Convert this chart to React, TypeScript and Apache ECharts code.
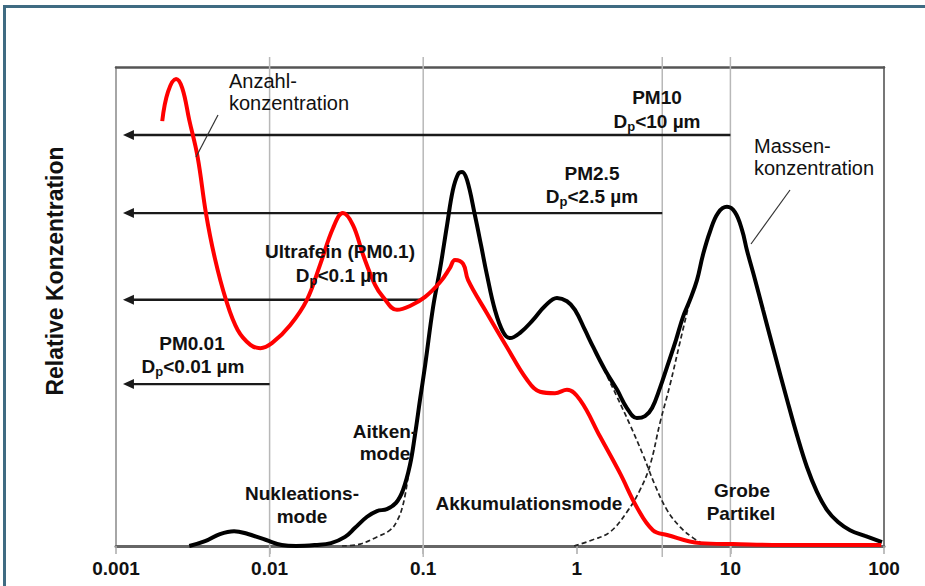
import React, { useEffect, useRef } from 'react';
import * as echarts from 'echarts';

const FONT = '"Liberation Sans", Arial, Helvetica, sans-serif';

// x axis (particle diameter, µm, log scale)
const xTickValues = [0.001, 0.01, 0.1, 1, 10, 100];
const xTickLabels = ['0.001', '0.01', '0.1', '1', '10', '100'];

// Anzahlkonzentration (red)
const numberX = [0.002, 0.00218, 0.00246, 0.0027, 0.003, 0.0034, 0.00385, 0.0044, 0.0052, 0.0062, 0.0075, 0.0087, 0.0104, 0.0136, 0.0175, 0.0213, 0.0259, 0.03, 0.0349, 0.0406, 0.0486, 0.0547, 0.0675, 0.082, 0.103, 0.129, 0.149, 0.161, 0.182, 0.196, 0.26, 0.351, 0.474, 0.576, 0.721, 0.863, 1.05, 1.42, 1.91, 2.46, 3.13, 3.87, 6.34, 10.4, 28.4, 96];
const numberY = [88.7, 94.8, 97.5, 95.6, 88.9, 81.2, 69.5, 60.1, 51.4, 45.1, 42.0, 41.3, 42.4, 46.1, 51.4, 58.7, 66.4, 69.5, 67.0, 60.8, 54.5, 52.0, 49.3, 50.1, 52.0, 55.1, 58.0, 59.7, 58.9, 55.5, 48.6, 41.5, 34.7, 32.2, 31.9, 32.6, 30.5, 22.8, 15.2, 8.1, 3.3, 2.3, 0.6, 0.4, 0.2, 0.2];

// Massenkonzentration (black)
const massX = [0.003, 0.0038, 0.00475, 0.00587, 0.00723, 0.0095, 0.012, 0.0149, 0.0198, 0.0251, 0.031, 0.036, 0.0431, 0.05, 0.058, 0.0665, 0.0739, 0.082, 0.0884, 0.0953, 0.103, 0.116, 0.129, 0.143, 0.156, 0.169, 0.179, 0.193, 0.217, 0.238, 0.26, 0.293, 0.331, 0.367, 0.427, 0.519, 0.621, 0.743, 0.863, 0.973, 1.13, 1.28, 1.53, 1.83, 2.12, 2.46, 2.78, 3.09, 3.48, 3.87, 4.42, 4.91, 5.46, 6.06, 6.63, 7.36, 8.3, 9.5, 10.7, 11.9, 12.8, 14.5, 16.3, 19.5, 23.4, 27.1, 31.5, 36.6, 42.6, 50.2, 60.1, 75.2, 97];
const massY = [0, 1.0, 2.5, 3.1, 2.5, 1.25, 0.2, 0, 0.2, 0.6, 1.9, 3.8, 6.1, 7.3, 7.7, 9.0, 11.7, 16.9, 23.2, 30.5, 37.8, 49.9, 58.0, 67.0, 74.3, 77.7, 78.1, 76.4, 69.1, 62.8, 56.6, 49.3, 44.7, 43.4, 44.5, 47.2, 50.1, 51.8, 51.1, 49.3, 45.1, 41.5, 36.7, 32.6, 28.8, 26.7, 27.1, 28.8, 33.0, 37.4, 43.0, 47.8, 51.4, 55.5, 60.8, 65.6, 69.5, 70.8, 69.7, 66.0, 61.8, 55.5, 49.3, 39.9, 30.5, 23.2, 16.5, 11.3, 7.5, 5.0, 3.3, 2.1, 0.8];

// Dashed mode components
const aitkenX = [0.0296, 0.0388, 0.05, 0.0608, 0.0675, 0.0739, 0.0795];
const aitkenY = [0, 0.4, 1.9, 3.3, 5.2, 8.6, 14.2];
const accumTailX = [1.28, 1.53, 1.83, 2.22, 2.7, 3.23, 3.87, 4.7, 5.71, 6.83];
const accumTailY = [41.5, 36.3, 31.1, 25.3, 19.0, 12.7, 7.5, 4.0, 1.7, 0.2];
const coarseX = [0.96, 1.26, 1.64, 2.12, 2.58, 3.0, 3.48, 4.04, 4.7, 5.46];
const coarseY = [0, 1.25, 2.9, 7.1, 11.7, 16.9, 25.7, 33.6, 42.6, 51.4];

// Size-class arrows (PM10, PM2.5, PM0.1, PM0.01)
const cutoffNames = ['PM10', 'PM2.5', 'PM0.1', 'PM0.01'];
const cutoffEnds = [10, 3.6, 0.1, 0.01];
const arrowLevels = [85.8, 69.5, 51.4, 33.8];
const arrowTip = 0.00111;
const gridLineX = [0.01, 0.1, 3.6, 10];

const zip = (xs: number[], ys: number[]) => xs.map((x, i) => [x, ys[i]]);

function txt(text: string, x: number, y: number, size: number, bold: boolean, align = 'center') {
  return {
    type: 'text',
    x,
    y,
    z: 100,
    style: {
      text,
      fill: '#111',
      fontSize: size,
      fontWeight: bold ? 'bold' : 'normal',
      fontFamily: FONT,
      align,
      verticalAlign: 'middle',
    },
  };
}

function dp(rest: string, x: number, y: number) {
  return {
    type: 'text',
    x,
    y,
    z: 100,
    style: {
      text: `{b|D}{s|p}{b|${rest}}`,
      align: 'center',
      verticalAlign: 'middle',
      rich: {
        b: { fontSize: 19, fontWeight: 'bold', fontFamily: FONT, fill: '#111', lineHeight: 22 },
        s: { fontSize: 13, fontWeight: 'bold', fontFamily: FONT, fill: '#111', lineHeight: 14, padding: [10, 0, 0, 0] },
      },
    },
  };
}

export default function App() {
  const ref = useRef<HTMLDivElement>(null);

  useEffect(() => {
    const chart = echarts.init(ref.current!, null, { renderer: 'svg' });

    const option: any = {
      animation: false,
      backgroundColor: '#ffffff',
      grid: { left: 116, right: 41, top: 67, bottom: 40 },
      xAxis: [
        {
          type: 'log',
          logBase: 10,
          min: 0.001,
          max: 100,
          axisLine: { show: true, onZero: false, lineStyle: { color: '#666', width: 3 } },
          axisTick: { show: true, length: 8, lineStyle: { color: '#aaa', width: 1.5 } },
          minorTick: { show: false },
          splitLine: { show: false },
          axisLabel: {
            margin: 13,
            color: '#111',
            fontSize: 19,
            fontWeight: 'bold',
            fontFamily: FONT,
            formatter: (v: number) => {
              const i = xTickValues.findIndex((t) => Math.abs(Math.log10(t) - Math.log10(v)) < 1e-6);
              return i >= 0 ? xTickLabels[i] : '';
            },
          },
        },
        {
          type: 'value',
          position: 'top',
          min: 0,
          max: 1,
          axisLine: { show: true, onZero: false, lineStyle: { color: '#555', width: 2.5 } },
          axisTick: { show: false },
          axisLabel: { show: false },
          splitLine: { show: false },
        },
      ],
      yAxis: [
        {
          type: 'value',
          min: 0,
          max: 100,
          axisLine: { show: true, onZero: false, lineStyle: { color: '#888', width: 1.5 } },
          axisTick: { show: false },
          axisLabel: { show: false },
          splitLine: { show: false },
        },
        {
          type: 'value',
          position: 'right',
          min: 0,
          max: 1,
          axisLine: { show: true, onZero: false, lineStyle: { color: '#777', width: 2 } },
          axisTick: { show: false },
          axisLabel: { show: false },
          splitLine: { show: false },
        },
      ],
      series: [
        {
          type: 'custom',
          name: 'grid',
          z: 1,
          clip: false,
          encode: { x: 0, y: 1 },
          data: gridLineX.map((x) => [x, 0]),
          renderItem: (params: any, api: any) => {
            const x = api.value(0);
            const top = api.coord([x, 100]);
            const bot = api.coord([x, 0]);
            return {
              type: 'line',
              shape: { x1: top[0], y1: top[1] - 10, x2: bot[0], y2: bot[1] + 11 },
              style: { stroke: '#b8b8b8', lineWidth: 1.5 },
            };
          },
        },
        {
          type: 'custom',
          name: 'arrows',
          z: 2,
          clip: false,
          encode: { x: 0, y: 1 },
          data: cutoffEnds.map((x, i) => [x, arrowLevels[i], cutoffNames[i]]),
          renderItem: (params: any, api: any) => {
            const end = api.coord([api.value(0), api.value(1)]);
            const tip = api.coord([arrowTip, api.value(1)]);
            return {
              type: 'group',
              children: [
                {
                  type: 'line',
                  shape: { x1: tip[0] + 8, y1: end[1], x2: end[0], y2: end[1] },
                  style: { stroke: '#1a1a1a', lineWidth: 2.4 },
                },
                {
                  type: 'polygon',
                  shape: { points: [[tip[0], tip[1]], [tip[0] + 11, tip[1] - 5], [tip[0] + 11, tip[1] + 5]] },
                  style: { fill: '#1a1a1a' },
                },
              ],
            };
          },
        },
        ...[
          [aitkenX, aitkenY],
          [accumTailX, accumTailY],
          [coarseX, coarseY],
        ].map(([xs, ys]) => ({
          type: 'line',
          z: 3,
          smooth: 0.4,
          showSymbol: false,
          symbol: 'none',
          data: zip(xs, ys),
          lineStyle: { color: '#222', width: 1.7, type: [5, 3] },
        })),
        {
          type: 'line',
          name: 'Massenkonzentration',
          z: 4,
          smooth: 0.4,
          showSymbol: false,
          symbol: 'none',
          data: zip(massX, massY),
          lineStyle: { color: '#000', width: 4 },
        },
        {
          type: 'line',
          name: 'Anzahlkonzentration',
          z: 5,
          smooth: 0.4,
          showSymbol: false,
          symbol: 'none',
          data: zip(numberX, numberY),
          lineStyle: { color: '#ff0000', width: 4 },
        },
      ],
      graphic: [
        {
          type: 'rect',
          z: 0,
          shape: { x: 4.5, y: 6.5, width: 1000, height: 1000 },
          style: { fill: 'none', stroke: '#3f6b82', lineWidth: 3 },
        },
        {
          type: 'text',
          x: 55,
          y: 271,
          rotation: Math.PI / 2,
          z: 100,
          style: {
            text: 'Relative Konzentration',
            fill: '#111',
            fontSize: 23,
            fontWeight: 'bold',
            fontFamily: FONT,
            align: 'center',
            verticalAlign: 'middle',
          },
        },
        // leader lines
        { type: 'line', z: 100, shape: { x1: 218, y1: 115, x2: 196, y2: 157 }, style: { stroke: '#333', lineWidth: 1.2 } },
        { type: 'line', z: 100, shape: { x1: 790, y1: 190, x2: 751, y2: 244 }, style: { stroke: '#333', lineWidth: 1.2 } },
        txt('Anzahl-', 229, 81, 20, false, 'left'),
        txt('konzentration', 229, 103, 20, false, 'left'),
        txt('Massen-', 754, 146, 20, false, 'left'),
        txt('konzentration', 754, 168, 20, false, 'left'),
        txt('PM10', 657, 97.5, 19, true),
        dp('<10 µm', 657, 121.5),
        txt('PM2.5', 592, 173.5, 19, true),
        dp('<2.5 µm', 592, 196.5),
        txt('Ultrafein (PM0.1)', 340, 251.5, 19, true),
        dp('<0.1 µm', 342, 275.5),
        txt('PM0.01', 192, 343.5, 19, true),
        dp('<0.01 µm', 193, 366.5),
        txt('Aitken-', 385, 431.5, 19, true),
        txt('mode', 385, 453.5, 19, true),
        txt('Nukleations-', 302, 493.5, 19, true),
        txt('mode', 302, 516.5, 19, true),
        txt('Akkumulationsmode', 529, 503.5, 19, true),
        txt('Grobe', 742, 490.5, 19, true),
        txt('Partikel', 741, 513.5, 19, true),
      ],
    };

    chart.setOption(option);
    return () => chart.dispose();
  }, []);

  return (
    <div
      ref={ref}
      style={{ position: 'fixed', left: 0, top: 0, width: 925, height: 586, background: '#fff' }}
    />
  );
}
